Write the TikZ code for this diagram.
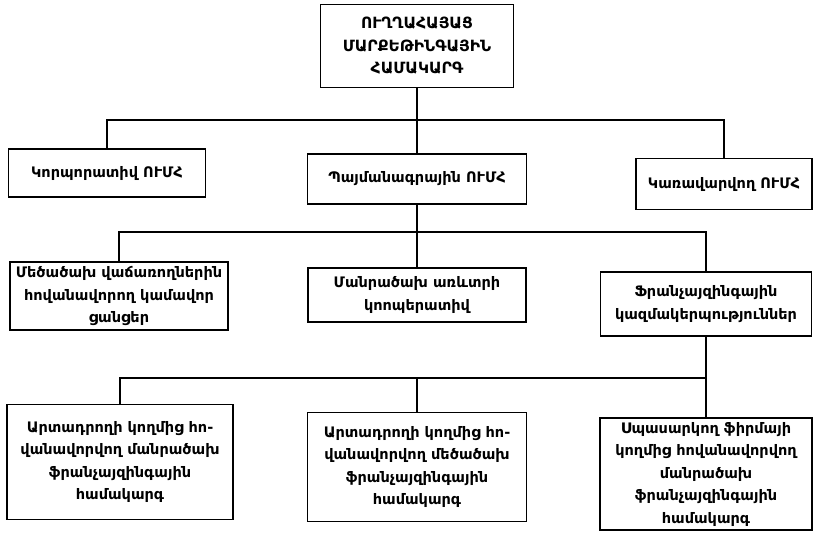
\documentclass[tikz,border=0pt]{standalone}
\usepackage{fontspec}
\newfontfamily\armfont{DejaVu Sans}
\usepackage{tikz}

\begin{document}
\begin{tikzpicture}[x=1pt,y=-1pt,
  box/.style={draw,line width=1.4pt,align=center,inner sep=2pt,
    font=\armfont\bfseries\fontsize{14.5}{22.5}\selectfont},
  link/.style={line width=1.2pt}]
\useasboundingbox (0,0) rectangle (815,533);
% top level
\node[box,minimum width=193pt,minimum height=83pt,
  font=\armfont\bfseries\fontsize{15.5}{22.5}\selectfont] (vms) at (417,46) {ՈՒՂՂԱՀԱՅԱՑ\\ՄԱՐՔԵԹԻՆԳԱՅԻՆ\\ՀԱՄԱԿԱՐԳ};
% second level
\node[box,minimum width=197pt,minimum height=48pt] (korp) at (107,173) {Կորպորատիվ ՈՒՄՀ};
\node[box,minimum width=219pt,minimum height=50pt] (paym) at (417,179) {Պայմանագրային ՈՒՄՀ};
\node[box,minimum width=176pt,minimum height=51pt] (karav) at (724,184) {Կառավարվող ՈՒՄՀ};
% third level
\node[box,minimum width=218pt,minimum height=68pt] (mecax) at (119,296) {Մեծածախ վաճառողներին\\հովանավորող կամավոր\\ցանցեր};
\node[box,minimum width=218pt,minimum height=54pt] (manrax) at (417,295) {Մանրածախ առևտրի\\կոոպերատիվ};
\node[box,minimum width=211pt,minimum height=64pt] (fran) at (706,304) {Ֆրանչայզինգային\\կազմակերպություններ};
% fourth level
\node[box,minimum width=226pt,minimum height=115pt] (artmanr) at (120,462) {Արտադրողի կողմից հո-\\վանավորվող մանրածախ\\ֆրանչայզինգային\\համակարգ};
\node[box,minimum width=219pt,minimum height=109pt] (artmec) at (417,467) {Արտադրողի կողմից հո-\\վանավորվող մեծածախ\\ֆրանչայզինգային\\համակարգ};
\node[box,minimum width=212pt,minimum height=112pt] (spas) at (706,474) {Սպասարկող ֆիրմայի\\կողմից հովանավորվող\\մանրածախ\\ֆրանչայզինգային\\համակարգ};

% connectors
\coordinate (j1) at (417,120);
\draw[link] (vms) -- (j1);
\draw[link] (korp.north) |- (j1) -| (karav.north);
\draw[link] (j1) -- (paym);

\coordinate (j2) at (417,232);
\draw[link] (paym) -- (j2);
\draw[link] (mecax.north) |- (j2) -| (fran.north);
\draw[link] (j2) -- (manrax);

\coordinate (j3) at (706,378);
\draw[link] (fran) -- (j3);
\draw[link] (artmanr.north) |- (j3);
\draw[link] (artmec.north) -- (artmec.north |- j3);
\draw[link] (j3) -- (spas);
\end{tikzpicture}
\end{document}
